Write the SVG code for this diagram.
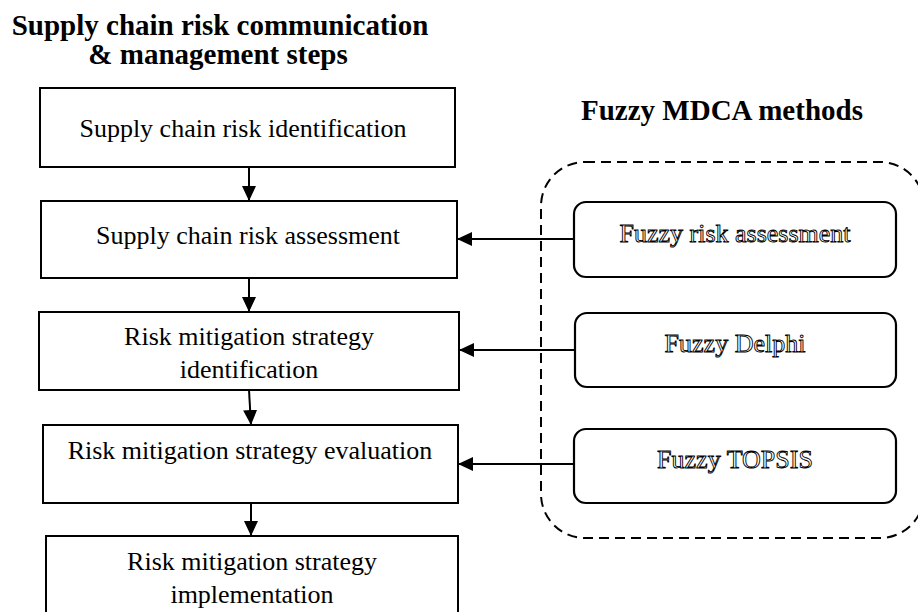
<svg xmlns="http://www.w3.org/2000/svg" width="918" height="612" viewBox="0 0 918 612">
<style>
.t{font-family:"Liberation Serif","Times New Roman",serif;font-size:26px;fill:#000;text-anchor:middle}
.h{font-family:"Liberation Serif","Times New Roman",serif;font-size:29px;font-weight:bold;fill:#000;text-anchor:middle}
.o{font-family:"Liberation Serif","Times New Roman",serif;font-size:26px;fill:#fff;stroke:#000;stroke-width:0.9;text-anchor:middle}
.box{fill:#fff;stroke:#000;stroke-width:2}
.rbox{fill:#fff;stroke:#000;stroke-width:2.2}
.c{stroke:#000;stroke-width:2;fill:none}
</style>
<defs>
<marker id="ah" markerUnits="userSpaceOnUse" markerWidth="16" markerHeight="14" refX="15" refY="7" orient="auto">
<path d="M0,0 L15,7 L0,14 z" fill="#000"/>
</marker>
</defs>
<rect width="918" height="612" fill="#fff"/>
<text class="h" x="220" y="35">Supply chain risk communication</text>
<text class="h" x="218" y="64">&amp; management steps</text>
<text class="h" x="722" y="120">Fuzzy MDCA methods</text>
<rect id="group-fuzzy" x="541" y="162" width="383" height="376" rx="44" ry="44" fill="none" stroke="#000" stroke-width="2" stroke-dasharray="10,6"/>
<g id="n1"><rect class="box" x="40" y="88" width="415" height="79"/><text class="t" x="243" y="137">Supply chain risk identification</text></g>
<g id="n2"><rect class="box" x="41" y="201" width="416" height="77"/><text class="t" x="248" y="244">Supply chain risk assessment</text></g>
<g id="n3"><rect class="box" x="39" y="312" width="420" height="78"/><text class="t" x="249" y="345">Risk mitigation strategy</text><text class="t" x="249" y="378">identification</text></g>
<g id="n4"><rect class="box" x="43" y="425" width="415" height="78"/><text class="t" x="250" y="459">Risk mitigation strategy evaluation</text></g>
<g id="n5"><rect class="box" x="46" y="536" width="412" height="90"/><text class="t" x="252" y="570">Risk mitigation strategy</text><text class="t" x="252" y="603">implementation</text></g>
<g id="m1"><rect class="rbox" x="574" y="202" width="322" height="75" rx="12" ry="12"/><text class="o" x="735" y="242">Fuzzy risk assessment</text></g>
<g id="m2"><rect class="rbox" x="575" y="313" width="321" height="74" rx="12" ry="12"/><text class="o" x="735" y="352">Fuzzy Delphi</text></g>
<g id="m3"><rect class="rbox" x="574" y="429" width="322" height="74" rx="12" ry="12"/><text class="o" x="735" y="468">Fuzzy TOPSIS</text></g>
<g id="connectors">
<line class="c" x1="249" y1="167" x2="249" y2="201" marker-end="url(#ah)"/>
<line class="c" x1="249" y1="278" x2="249" y2="312" marker-end="url(#ah)"/>
<line class="c" x1="249" y1="390" x2="251" y2="425" marker-end="url(#ah)"/>
<line class="c" x1="251" y1="503" x2="251" y2="536" marker-end="url(#ah)"/>
<line class="c" x1="574" y1="239" x2="457" y2="239" marker-end="url(#ah)"/>
<line class="c" x1="575" y1="350" x2="459" y2="350" marker-end="url(#ah)"/>
<line class="c" x1="574" y1="464" x2="458" y2="464" marker-end="url(#ah)"/>
</g>
</svg>
